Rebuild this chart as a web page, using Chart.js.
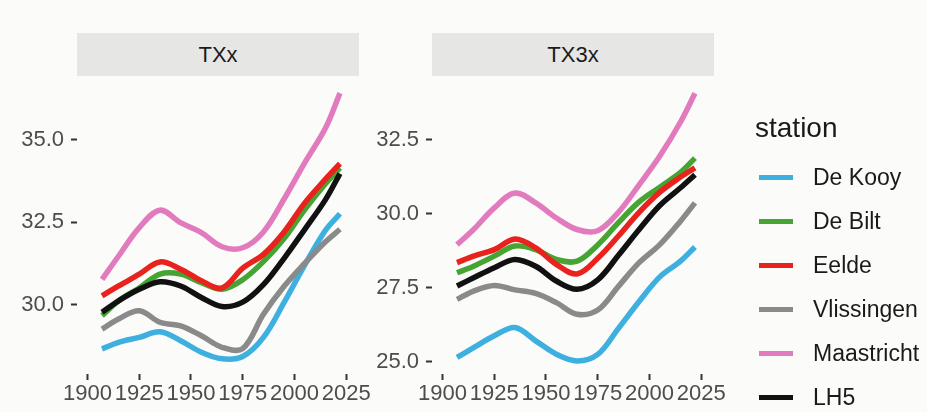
<!DOCTYPE html>
<html>
<head>
<meta charset="utf-8">
<script src="https://cdn.jsdelivr.net/npm/chart.js@4.4.1/dist/chart.umd.min.js"></script>
<style>
  body { margin: 0; background: #fbfbfa; font-family: "Liberation Sans", Arial, sans-serif; }
  #wrap { position: relative; width: 927px; height: 412px; overflow: hidden; }
  .strip { position: absolute; top: 33px; height: 43px; width: 282px; background: #e6e6e4; color: #1a1a1a;
           font-size: 22px; display: flex; align-items: center; justify-content: center; }
  .box { position: absolute; top: 77px; height: 335px; }
  #legend { position: absolute; left: 755px; top: 109px; color: #1a1a1a; }
  #legend .title { font-size: 28px; line-height: 38px; height: 38px; margin-bottom: 8px; }
  #legend .row { display: flex; align-items: center; height: 44px; font-size: 23px; }
  #legend .key { display: inline-block; width: 34px; height: 5px; margin-left: 4px; margin-right: 20px; }
</style>
</head>
<body>
<div id="wrap">
  <div class="strip" style="left:77px">TXx</div>
  <div class="strip" style="left:432px">TX3x</div>
  <div class="box" style="left:0; width:380px"><canvas id="txx"></canvas></div>
  <div class="box" style="left:359px; width:390px"><canvas id="tx3x"></canvas></div>
  <div id="legend"></div>
</div>
<script>
const years = [1907, 1915, 1925, 1935, 1945, 1955, 1965, 1975, 1985, 1995, 2005, 2015, 2022];
const stations = ["De Kooy", "De Bilt", "Eelde", "Vlissingen", "Maastricht", "LH5"];
const colors = ["#3db0e0", "#46a532", "#e8221c", "#8a8a8a", "#e27bbd", "#111111"];
const xTicks = [1900, 1925, 1950, 1975, 2000, 2025];
const txxTicks = [30.0, 32.5, 35.0];
const tx3xTicks = [25.0, 27.5, 30.0, 32.5];

// TXx
const txxDeKooy     = [28.65, 28.85, 29.00, 29.17, 28.90, 28.55, 28.35, 28.42, 29.00, 30.06, 31.20, 32.25, 32.75];
const txxDeBilt     = [29.66, 30.11, 30.50, 30.92, 30.92, 30.66, 30.46, 30.75, 31.30, 32.00, 32.88, 33.66, 34.14];
const txxEelde      = [30.26, 30.56, 30.92, 31.29, 31.07, 30.72, 30.50, 31.10, 31.52, 32.20, 33.08, 33.80, 34.27];
const txxVlissingen = [29.25, 29.56, 29.81, 29.46, 29.35, 29.05, 28.70, 28.66, 29.70, 30.55, 31.25, 31.90, 32.28];
const txxMaastricht = [30.76, 31.47, 32.33, 32.86, 32.48, 32.18, 31.75, 31.72, 32.20, 33.20, 34.30, 35.35, 36.41];
const txxLH5        = [29.76, 30.11, 30.46, 30.69, 30.56, 30.21, 29.94, 30.07, 30.60, 31.40, 32.28, 33.18, 33.97];

// TX3x
const tx3xDeKooy     = [25.15, 25.48, 25.88, 26.16, 25.71, 25.26, 25.03, 25.25, 26.13, 27.04, 27.87, 28.40, 28.88];
const tx3xDeBilt     = [28.01, 28.23, 28.57, 28.91, 28.79, 28.46, 28.40, 28.95, 29.70, 30.40, 30.90, 31.40, 31.88];
const tx3xEelde      = [28.35, 28.57, 28.79, 29.15, 28.85, 28.29, 27.97, 28.50, 29.25, 30.05, 30.73, 31.24, 31.55];
const tx3xVlissingen = [27.11, 27.39, 27.58, 27.43, 27.31, 27.00, 26.61, 26.75, 27.55, 28.35, 28.96, 29.75, 30.37];
const tx3xMaastricht = [28.96, 29.47, 30.20, 30.70, 30.37, 29.86, 29.47, 29.43, 30.05, 30.98, 31.95, 33.10, 34.07];
const tx3xLH5        = [27.56, 27.84, 28.18, 28.46, 28.23, 27.73, 27.45, 27.77, 28.60, 29.47, 30.28, 30.88, 31.32];

const txxSeries = [txxDeKooy, txxDeBilt, txxEelde, txxVlissingen, txxMaastricht, txxLH5];
const tx3xSeries = [tx3xDeKooy, tx3xDeBilt, tx3xEelde, tx3xVlissingen, tx3xMaastricht, tx3xLH5];

const axisFont = { family: "'Liberation Sans', Arial, sans-serif", size: 22 };
const gridOpts = { drawOnChartArea: false, tickLength: 6, tickColor: "#333333", tickWidth: 2 };

function makeChart(id, series, yMin, yMax, yTicks, yWidth, padRight) {
    return new Chart(document.getElementById(id), {
        type: "line",
        data: {
            datasets: series.map((vals, i) => ({
                label: stations[i],
                data: vals.map((v, j) => ({ x: years[j], y: v })),
                borderColor: colors[i],
                backgroundColor: colors[i],
                borderWidth: 5.5,
                pointRadius: 0,
                tension: 0.35,
                fill: false,
                order: stations.length - 1 - i   // LH5 on top, like ggplot
            }))
        },
        options: {
            responsive: true,
            maintainAspectRatio: false,
            animation: false,
            layout: { padding: { left: 0, top: 0, bottom: 0, right: padRight } },
            plugins: { legend: { display: false }, tooltip: { enabled: false } },
            scales: {
                x: {
                    type: "linear",
                    min: 1894.9,
                    max: 2031.2,
                    afterBuildTicks: axis => { axis.ticks = xTicks.map(v => ({ value: v })); },
                    afterFit: axis => { axis.height = 38; axis.paddingLeft = 0; axis.paddingRight = 0; },
                    grid: gridOpts,
                    border: { display: false },
                    ticks: { color: "#4d4d4d", font: axisFont, padding: 1, maxRotation: 0, autoSkip: false,
                             callback: v => String(v) }
                },
                y: {
                    min: yMin,
                    max: yMax,
                    afterBuildTicks: axis => { axis.ticks = yTicks.map(v => ({ value: v })); },
                    afterFit: axis => { axis.width = yWidth; axis.paddingTop = 0; axis.paddingBottom = 0; },
                    grid: gridOpts,
                    border: { display: false },
                    ticks: { color: "#4d4d4d", font: axisFont, padding: 7, callback: v => v.toFixed(1) }
                }
            }
        }
    });
}

makeChart("txx", txxSeries, 27.89, 36.90, txxTicks, 77, 21);
makeChart("tx3x", tx3xSeries, 24.59, 34.62, tx3xTicks, 73, 35);

// legend
const legend = document.getElementById("legend");
legend.innerHTML = '<div class="title">station</div>' + stations.map((s, i) =>
    '<div class="row"><span class="key" style="background:' + colors[i] + '"></span>' + s + '</div>').join("");
</script>
</body>
</html>
